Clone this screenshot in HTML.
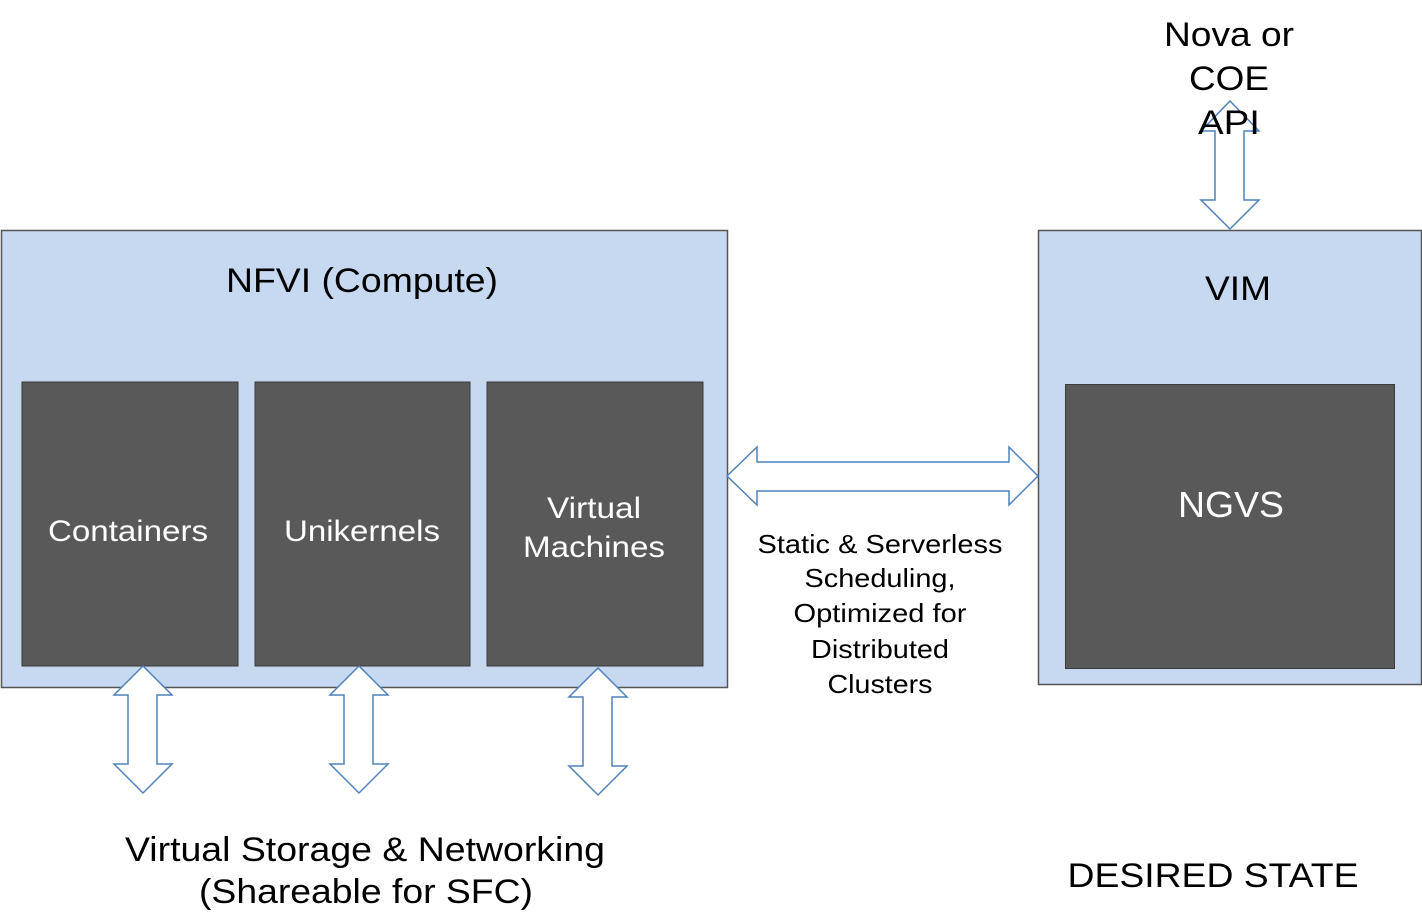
<!DOCTYPE html>
<html><head><style>
body{margin:0;width:1422px;height:922px;background:#fff;overflow:hidden;font-family:"Liberation Sans",sans-serif;}
svg{position:absolute;left:0;top:0}
</style></head><body>
<svg width="1422" height="922" viewBox="0 0 1422 922" font-family="Liberation Sans, sans-serif">
<rect x="1.5" y="230.5" width="726" height="457" fill="#c6d9f0" stroke="#555" stroke-width="1.5"/>
<rect x="1038.5" y="230.5" width="383" height="454" fill="#c6d9f0" stroke="#555" stroke-width="1.5"/>
<rect x="22" y="382" width="216" height="284" fill="#595959" stroke="#3a3a3a"/>
<rect x="255" y="382" width="215" height="284" fill="#595959" stroke="#3a3a3a"/>
<rect x="487" y="382" width="216" height="284" fill="#595959" stroke="#3a3a3a"/>
<rect x="1065.5" y="384.5" width="329" height="284" fill="#595959" stroke="#3a3a3a"/>
<g fill="#fff" stroke="#4f81bd" stroke-width="1.5">
<polygon points="143,666 172,695 157,695 157,764 172,764 143,793 114,764 128,764 128,695 114,695"/>
<polygon points="359,666 388,695 373,695 373,764 388,764 359,793 330,764 344,764 344,695 330,695"/>
<polygon points="598,668 627,697 612,697 612,766 627,766 598,795 569,766 583,766 583,697 569,697"/>
<polygon points="727,476 757,447 757,462 1009,462 1009,447 1038,476 1009,505 1009,491 757,491 757,505"/>
</g>
<g fill="none" stroke="#4f81bd" stroke-width="1.5">
<polygon points="1230,101 1259,131 1244,131 1244,200 1259,200 1230,229 1201,200 1215,200 1215,131 1201,131"/>
</g>
<g text-anchor="middle" fill="#000" lengthAdjust="spacingAndGlyphs">
<text x="1229" y="46" font-size="34" textLength="130" lengthAdjust="spacingAndGlyphs">Nova or</text>
<text x="1229" y="90" font-size="34" textLength="80" lengthAdjust="spacingAndGlyphs">COE</text>
<text x="1229" y="134" font-size="34" textLength="62" lengthAdjust="spacingAndGlyphs">API</text>
<text x="362" y="292" font-size="34" textLength="272" lengthAdjust="spacingAndGlyphs">NFVI (Compute)</text>
<text x="1238" y="300" font-size="34" textLength="66" lengthAdjust="spacingAndGlyphs">VIM</text>
<text x="880" y="553" font-size="26" textLength="245" lengthAdjust="spacingAndGlyphs">Static &amp; Serverless</text>
<text x="880" y="587" font-size="26" textLength="151" lengthAdjust="spacingAndGlyphs">Scheduling,</text>
<text x="880" y="622" font-size="26" textLength="173" lengthAdjust="spacingAndGlyphs">Optimized for</text>
<text x="880" y="658" font-size="26" textLength="138" lengthAdjust="spacingAndGlyphs">Distributed</text>
<text x="880" y="693" font-size="26" textLength="105" lengthAdjust="spacingAndGlyphs">Clusters</text>
<text x="365" y="861" font-size="34" textLength="480" lengthAdjust="spacingAndGlyphs">Virtual Storage &amp; Networking</text>
<text x="366" y="903" font-size="34" textLength="334" lengthAdjust="spacingAndGlyphs">(Shareable for SFC)</text>
<text x="1213" y="887" font-size="34" textLength="291" lengthAdjust="spacingAndGlyphs">DESIRED STATE</text>
</g>
<g text-anchor="middle" fill="#fff">
<text x="128" y="541" font-size="30" textLength="160" lengthAdjust="spacingAndGlyphs">Containers</text>
<text x="362" y="541" font-size="30" textLength="156" lengthAdjust="spacingAndGlyphs">Unikernels</text>
<text x="594" y="518" font-size="30" textLength="94" lengthAdjust="spacingAndGlyphs">Virtual</text>
<text x="594" y="557" font-size="30" textLength="142" lengthAdjust="spacingAndGlyphs">Machines</text>
<text x="1231" y="517" font-size="36" textLength="106" lengthAdjust="spacingAndGlyphs">NGVS</text>
</g>
</svg>
</body></html>
